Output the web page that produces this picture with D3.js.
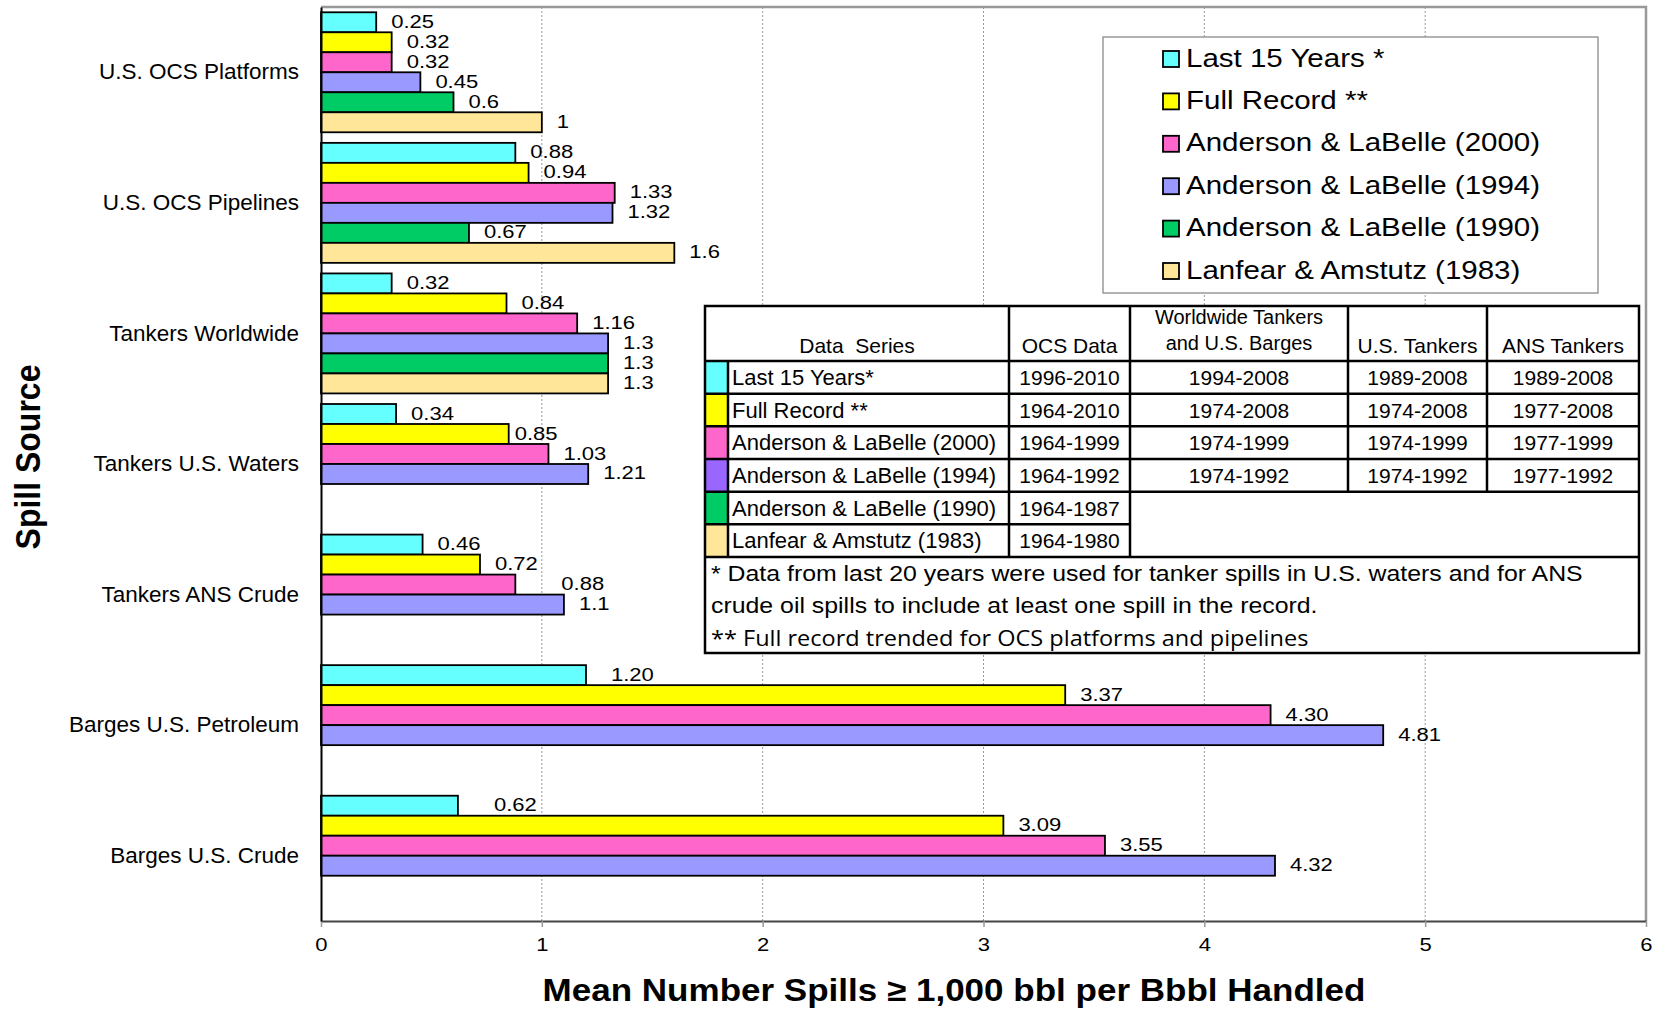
<!DOCTYPE html>
<html>
<head>
<meta charset="utf-8">
<script src="https://cdn.jsdelivr.net/npm/d3@7"></script>
<style>
  body { margin: 0; background: #fff; }
  svg { display: block; font-family: "Liberation Sans", Arial, sans-serif; }
</style>
</head>
<body>
<svg id="chart" width="1658" height="1009"></svg>
<script>
// ---- data ----
const categories = ["U.S. OCS Platforms", "U.S. OCS Pipelines", "Tankers Worldwide",
    "Tankers U.S. Waters", "Tankers ANS Crude", "Barges U.S. Petroleum", "Barges U.S. Crude"];
const seriesNames = ["Last 15 Years *", "Full Record **", "Anderson & LaBelle (2000)",
    "Anderson & LaBelle (1994)", "Anderson & LaBelle (1990)", "Lanfear & Amstutz (1983)"];

// values kept as printed, so the labels read the same ("1.20", "1.6", "1")
const last15 = ["0.25", "0.88", "0.32", "0.34", "0.46", "1.20", "0.62"];
const fullRecord = ["0.32", "0.94", "0.84", "0.85", "0.72", "3.37", "3.09"];
const al2000 = ["0.32", "1.33", "1.16", "1.03", "0.88", "4.30", "3.55"];
const al1994 = ["0.45", "1.32", "1.3", "1.21", "1.1", "4.81", "4.32"];
const al1990 = ["0.6", "0.67", "1.3", null, null, null, null];
const lanfear = ["1", "1.6", "1.3", null, null, null, null];
const seriesValues = [last15, fullRecord, al2000, al1994, al1990, lanfear];

const xTicks = [0, 1, 2, 3, 4, 5, 6];

// inset table
const tableRowNames = ["Last 15 Years*", "Full Record **", "Anderson & LaBelle (2000)",
    "Anderson & LaBelle (1994)", "Anderson & LaBelle (1990)", "Lanfear & Amstutz (1983)"];
const ocsYears = ["1996-2010", "1964-2010", "1964-1999", "1964-1992", "1964-1987", "1964-1980"];
const worldwideYears = ["1994-2008", "1974-2008", "1974-1999", "1974-1992"];
const usTankerYears = ["1989-2008", "1974-2008", "1974-1999", "1974-1992"];
const ansYears = ["1989-2008", "1977-2008", "1977-1999", "1977-1992"];
const footnotes = [
    "* Data from last 20 years were used for tanker spills in U.S. waters and for ANS",
    "crude oil spills to include at least one spill in the record.",
    "** Full record trended for OCS platforms and pipelines"
];

// ---- styles ----
const barColors = ["#66ffff", "#ffff00", "#ff66cc", "#9999ff", "#00cc66", "#ffe699"];
const swatchColors = ["#66ffff", "#ffff00", "#ff66cc", "#9966ff", "#00cc66", "#ffe699"];
// a few labels sit further out in the original
const labelNudge = { "5|0": 10, "6|0": 21, "4|2": 31, "3|1": -9 };

const margin = { top: 7, right: 12, bottom: 88, left: 321 };
const width = 1658 - margin.left - margin.right;
const height = 1009 - margin.top - margin.bottom;

const svg = d3.select("#chart");
const g = svg.append("g").attr("transform", `translate(${margin.left},${margin.top})`);

const x = d3.scaleLinear().domain([0, 6]).range([0, width]);
const y = d3.scaleBand().domain(categories).range([0, height]).paddingInner(0.081).paddingOuter(0.0405);
const ySub = d3.scaleBand().domain(d3.range(seriesNames.length)).range([0, y.bandwidth()]);

// grid
g.append("g").selectAll("line")
    .data(xTicks.slice(1, -1))
    .join("line")
    .attr("x1", d => x(d)).attr("x2", d => x(d))
    .attr("y1", 0).attr("y2", height)
    .attr("stroke", "#999").attr("stroke-dasharray", "2,2");

// plot frame top / right
g.append("path")
    .attr("d", `M0,0H${width}V${height}`)
    .attr("fill", "none").attr("stroke", "#999").attr("stroke-width", 2.5);

// bars
const cells = [];
categories.forEach((c, ci) => {
    seriesValues.forEach((vals, si) => {
        if (vals[ci] !== null) cells.push({ c, ci, si, label: vals[ci], v: +vals[ci] });
    });
});

g.append("g").selectAll("rect")
    .data(cells)
    .join("rect")
    .attr("x", 0)
    .attr("y", d => y(d.c) + ySub(d.si))
    .attr("width", d => x(d.v))
    .attr("height", ySub.bandwidth())
    .attr("fill", d => barColors[d.si])
    .attr("stroke", "#000").attr("stroke-width", 1.8);

g.append("g").selectAll("text")
    .data(cells)
    .join("text")
    .attr("transform", d => {
        const dx = 15 + (labelNudge[d.ci + "|" + d.si] || 0);
        return `translate(${x(d.v) + dx},${y(d.c) + ySub(d.si) + ySub.bandwidth() / 2 + 5.5}) scale(1.16,1)`;
    })
    .attr("font-size", 19)
    .text(d => d.label);

// x axis
const xAxis = g.append("g")
    .attr("transform", `translate(0,${height})`)
    .call(d3.axisBottom(x).tickValues(xTicks).tickFormat(d3.format("d"))
        .tickSize(6).tickSizeOuter(0).tickPadding(11));
xAxis.select(".domain").attr("stroke", "#444").attr("stroke-width", 2);
xAxis.selectAll(".tick line").attr("stroke", "#999").attr("stroke-width", 1.5);
xAxis.selectAll(".tick text")
    .attr("font-size", 19).attr("font-family", "Liberation Sans, Arial, sans-serif")
    .attr("fill", "#000").attr("transform", "scale(1.16,1)");

// y axis
const yAxis = g.append("g")
    .call(d3.axisLeft(y).tickSize(0).tickPadding(22));
yAxis.select(".domain").attr("stroke", "#000").attr("stroke-width", 2);
yAxis.selectAll(".tick text")
    .attr("font-size", 22.5).attr("font-family", "Liberation Sans, Arial, sans-serif")
    .attr("fill", "#000");

// axis titles
svg.append("text")
    .attr("transform", "translate(954,1001) scale(1.13,1)")
    .attr("text-anchor", "middle")
    .attr("font-size", 31).attr("font-weight", "bold")
    .text("Mean Number Spills \u2265 1,000 bbl per Bbbl Handled");

svg.append("text")
    .attr("transform", "translate(40,457) scale(1.08,1) rotate(-90)")
    .attr("text-anchor", "middle")
    .attr("font-size", 32).attr("font-weight", "bold")
    .text("Spill Source");

// legend
const legend = svg.append("g").attr("transform", "translate(1103,37)");
legend.append("rect")
    .attr("width", 495).attr("height", 256)
    .attr("fill", "#fff").attr("stroke", "#808080").attr("stroke-width", 1.2);
const legendItem = legend.selectAll("g.item")
    .data(seriesNames)
    .join("g")
    .attr("class", "item")
    .attr("transform", (d, i) => `translate(60,${22 + i * 42.4})`);
legendItem.append("rect")
    .attr("x", 0).attr("y", -8).attr("width", 16).attr("height", 16)
    .attr("fill", (d, i) => barColors[i])
    .attr("stroke", "#000").attr("stroke-width", 1.8);
legendItem.append("text")
    .attr("transform", "translate(23,7.5) scale(1.18,1)")
    .attr("font-size", 25)
    .text(d => d);

// inset table
const colX = [705, 728, 1009, 1130, 1348, 1487, 1639];
const tTop = 306, tHead = 361, rowH = 32.67, tBottom = 653;
const rowY = d3.range(7).map(i => tHead + i * rowH);
const table = svg.append("g").attr("font-size", 21);

table.append("rect")
    .attr("x", colX[0]).attr("y", tTop)
    .attr("width", colX[6] - colX[0]).attr("height", tBottom - tTop)
    .attr("fill", "#fff");

table.selectAll("rect.sw")
    .data(swatchColors)
    .join("rect")
    .attr("class", "sw")
    .attr("x", colX[0]).attr("y", (d, i) => rowY[i])
    .attr("width", colX[1] - colX[0]).attr("height", rowH)
    .attr("fill", d => d);

const tLines = [
    [colX[0], tHead, colX[6], tHead],
    ...d3.range(1, 5).map(i => [colX[0], rowY[i], colX[6], rowY[i]]),
    [colX[0], rowY[5], colX[3], rowY[5]],
    [colX[0], rowY[6], colX[6], rowY[6]],
    [colX[1], tHead, colX[1], rowY[6]],
    [colX[2], tTop, colX[2], rowY[6]],
    [colX[3], tTop, colX[3], rowY[6]],
    [colX[4], tTop, colX[4], rowY[4]],
    [colX[5], tTop, colX[5], rowY[4]]
];
table.selectAll("line")
    .data(tLines)
    .join("line")
    .attr("x1", d => d[0]).attr("y1", d => d[1]).attr("x2", d => d[2]).attr("y2", d => d[3])
    .attr("stroke", "#000").attr("stroke-width", 2.5);
table.append("rect")
    .attr("x", colX[0]).attr("y", tTop)
    .attr("width", colX[6] - colX[0]).attr("height", tBottom - tTop)
    .attr("fill", "none").attr("stroke", "#000").attr("stroke-width", 2.5);

// header
const mid = (a, b) => (a + b) / 2;
const headerCells = [
    { x: mid(colX[0], colX[2]), t: "Data  Series" },
    { x: mid(colX[2], colX[3]), t: "OCS Data" },
    { x: mid(colX[4], colX[5]), t: "U.S. Tankers" },
    { x: mid(colX[5], colX[6]), t: "ANS Tankers" }
];
table.selectAll("text.hd")
    .data(headerCells)
    .join("text")
    .attr("class", "hd")
    .attr("x", d => d.x).attr("y", 353)
    .attr("text-anchor", "middle")
    .style("white-space", "pre")
    .text(d => d.t);
table.append("text")
    .attr("x", mid(colX[3], colX[4])).attr("y", 324)
    .attr("text-anchor", "middle").attr("font-size", 20)
    .text("Worldwide Tankers");
table.append("text")
    .attr("x", mid(colX[3], colX[4])).attr("y", 350)
    .attr("text-anchor", "middle").attr("font-size", 20)
    .text("and U.S. Barges");

// body
table.selectAll("text.nm")
    .data(tableRowNames)
    .join("text")
    .attr("class", "nm")
    .attr("x", colX[1] + 4).attr("y", (d, i) => rowY[i] + rowH / 2 + 7.5)
    .attr("font-size", 22)
    .text(d => d);
[ocsYears, worldwideYears, usTankerYears, ansYears].forEach((col, k) => {
    table.append("g").selectAll("text")
        .data(col)
        .join("text")
        .attr("x", mid(colX[k + 2], colX[k + 3]))
        .attr("y", (d, i) => rowY[i] + rowH / 2 + 7.5)
        .attr("text-anchor", "middle")
        .text(d => d);
});

// footnotes
table.selectAll("text.fn")
    .data(footnotes)
    .join("text")
    .attr("class", "fn")
    .attr("transform", (d, i) => `translate(711,${[581, 613, 646][i]}) scale(${i < 2 ? 1.13 : 1.12},1)`)
    .attr("font-size", (d, i) => i < 2 ? 22 : 21)
    .attr("font-family", (d, i) => i < 2 ? null : "Open Sans, sans-serif")
    .text(d => d);
</script>
</body>
</html>
